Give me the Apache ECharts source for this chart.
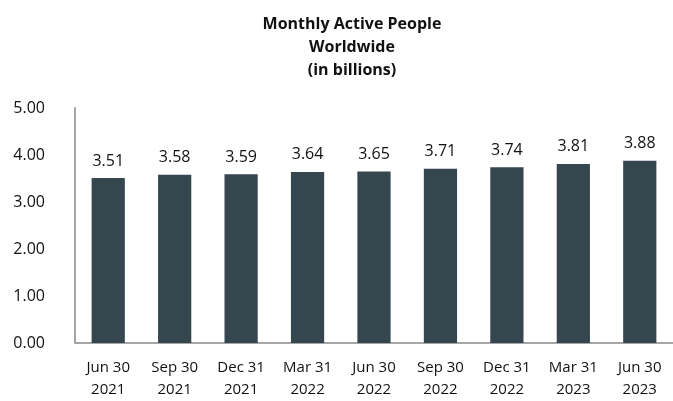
<!DOCTYPE html>
<html>
<head>
<meta charset="utf-8">
<script src="https://cdn.jsdelivr.net/npm/echarts@6/dist/echarts.min.js"></script>
<style>html,body{margin:0;padding:0;background:#fff;}#c{width:673px;height:401px;}</style>
</head>
<body>
<div id="c"></div>
<script>
const categories = ['Jun 30\n2021','Sep 30\n2021','Dec 31\n2021','Mar 31\n2022','Jun 30\n2022','Sep 30\n2022','Dec 31\n2022','Mar 31\n2023','Jun 30\n2023'];
const values = [3.51, 3.58, 3.59, 3.64, 3.65, 3.71, 3.74, 3.81, 3.88];
const titleLines = ['Monthly Active People', 'Worldwide', '(in billions)'];

const chart = echarts.init(document.getElementById('c'), null, {renderer: 'canvas'});
const font = '"Open Sans", "Noto Sans", sans-serif';
chart.setOption({
  animation: false,
  title: {
    text: titleLines.join('\n'),
    left: 347, top: 8, textAlign: 'center',
    textStyle: {fontFamily: font, fontWeight: 'bold', fontSize: 16, lineHeight: 23, color: '#111'}
  },
  grid: {left: 75, right: -9, top: 108, bottom: 54},
  xAxis: {
    type: 'category', data: categories,
    axisLine: {show: true, lineStyle: {color: '#a6a6a6', width: 2}},
    axisTick: {show: false},
    axisLabel: {fontFamily: font, fontSize: 15, lineHeight: 22, color: '#111', margin: 14, interval: 0}
  },
  yAxis: {
    type: 'value', min: 0, max: 5, interval: 1,
    axisLine: {show: true, lineStyle: {color: '#a6a6a6', width: 2}},
    axisTick: {show: false},
    splitLine: {show: false},
    axisLabel: {fontFamily: font, fontSize: 16, color: '#111', margin: 30,
      formatter: v => v.toFixed(2)}
  },
  series: [{
    type: 'bar', data: values, barWidth: '50%',
    itemStyle: {color: '#36464f'},
    label: {show: true, position: 'top', distance: 9, fontFamily: font, fontSize: 16, color: '#111',
      formatter: p => p.value.toFixed(2)}
  }]
});
</script>
</body>
</html>
